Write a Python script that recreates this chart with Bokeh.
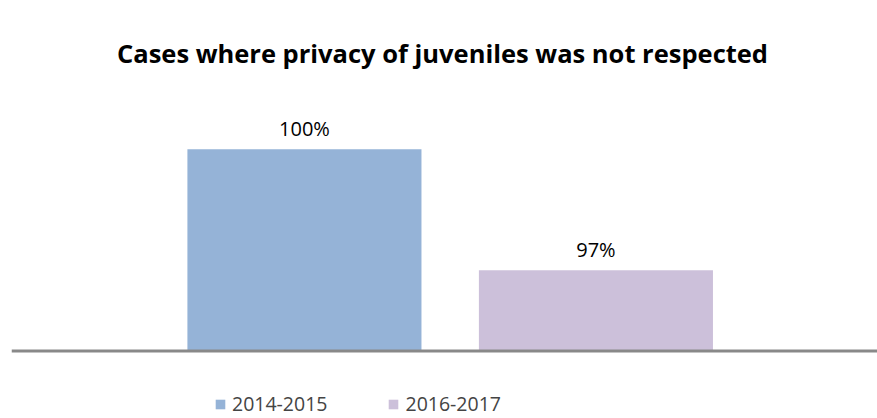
from bokeh.plotting import figure
from bokeh.models import ColumnDataSource, Range1d, Span, Label, LabelSet, Legend, LegendItem
from bokeh.core.properties import value
from bokeh.embed import file_html
from bokeh.resources import INLINE

title_text = "Cases where privacy of juveniles was not respected"
periods = ["2014-2015", "2016-2017"]
values = [100, 97]
value_labels = ["100%", "97%"]
colors = ["#95b3d7", "#ccc0da"]
baseline = 95

src = ColumnDataSource(dict(
    x=list(range(len(periods))),
    top=values,
    bottom=[baseline] * len(values),
    period=periods,
    lab=value_labels,
    color=colors,
))

p = figure(width=877, height=418, output_backend="svg", toolbar_location=None,
           x_range=Range1d(-1.005, 1.966), y_range=Range1d(93.326, 103.691),
           min_border_left=11, min_border_right=0, min_border_top=0, min_border_bottom=0)
p.xaxis.visible = False
p.yaxis.visible = False
p.xgrid.visible = False
p.ygrid.visible = False
p.outline_line_color = None
p.background_fill_color = "white"
p.border_fill_color = "white"

r = p.vbar(x="x", top="top", bottom="bottom", width=0.803, fill_color="color",
           line_color=None, source=src)

p.add_layout(Span(location=baseline, dimension="width", line_color="#898989", line_width=3))

p.add_layout(LabelSet(x="x", y="top", text="lab", source=src, y_offset=21,
                      text_align="center", text_baseline="middle",
                      text_font=value("Open Sans"), text_font_size=value("20px"),
                      text_color="#000000"))

p.add_layout(Label(x=431, y=366, x_units="screen", y_units="screen", text=title_text,
                   text_align="center", text_baseline="middle", text_font="Open Sans",
                   text_font_style="bold", text_font_size="25.5px", text_color="#000000"))

legend = Legend(items=[LegendItem(label=periods[i], renderers=[r], index=i) for i in range(len(periods))],
                orientation="horizontal", location=(203, 1), padding=0, margin=0,
                spacing=60, glyph_width=12, glyph_height=12, label_standoff=6,
                label_text_font="Open Sans", label_text_font_size="19.5px",
                border_line_color=None, background_fill_alpha=0)
p.add_layout(legend)

open("out.html", "w").write(file_html(p, INLINE))
